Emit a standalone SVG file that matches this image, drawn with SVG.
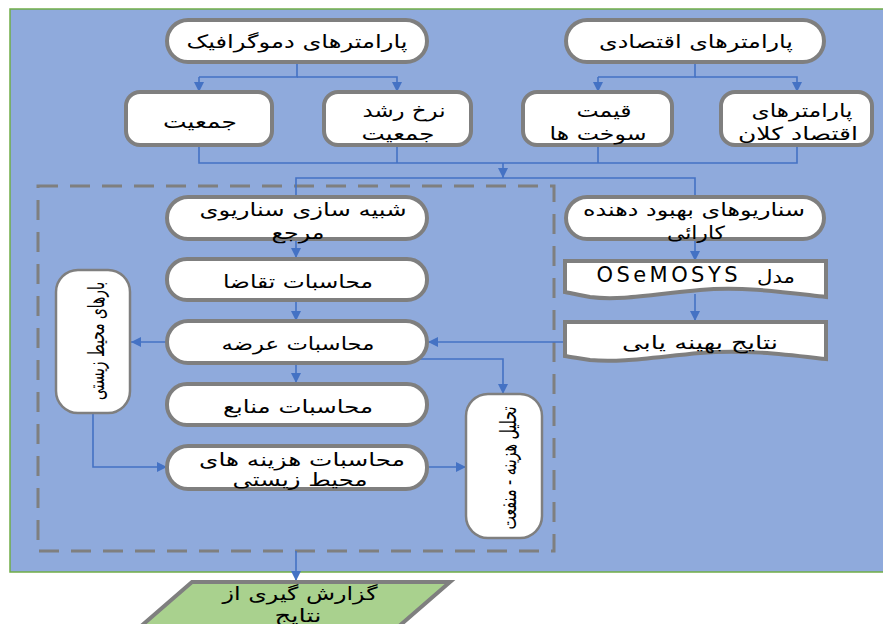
<svg xmlns="http://www.w3.org/2000/svg" width="883" height="624" viewBox="0 0 883 624">
<defs>
<marker id="ah" viewBox="0 0 10 10" refX="10" refY="5" markerWidth="10" markerHeight="10" markerUnits="userSpaceOnUse" orient="auto">
<path d="M0,0 L10,5 L0,10 Z" fill="#4472C4"/>
</marker>
<style>
.bg{fill:#8FAADC;stroke:#70AD47;stroke-width:1.5}
.n{fill:#FFFFFF;stroke:#7F7F7F;stroke-width:4}
.v{fill:#FFFFFF;stroke:#7F7F7F;stroke-width:2.5}
.dash{fill:none;stroke:#7F7F7F;stroke-width:3;stroke-dasharray:20 12}
.c{fill:none;stroke:#4472C4;stroke-width:1.6}
.a{marker-end:url(#ah)}
text{font-family:"DejaVu Sans",sans-serif;font-size:18px;fill:#000;text-anchor:middle;dominant-baseline:central}
.lat{font-size:21px}
.rot{font-size:22px}
</style>
</defs>
<rect class="bg" x="10" y="9" width="880" height="563"/>
<rect class="dash" x="38" y="186" width="516" height="365"/>
<g id="connectors">
<path class="c" d="M297,62 V77 H199"/>
<path class="c a" d="M199,77 V92"/>
<path class="c a" d="M297,77 H397 V92"/>
<path class="c" d="M695,62 V77 H598"/>
<path class="c a" d="M598,77 V92"/>
<path class="c a" d="M695,77 H797 V92"/>
<path class="c" d="M199,145 V163 H797 V145"/>
<path class="c" d="M397,145 V163"/>
<path class="c" d="M598,145 V163"/>
<path class="c a" d="M503,163 V178"/>
<path class="c" d="M296,198 V178 H695 V198"/>
<path class="c a" d="M296,239 V258"/>
<path class="c a" d="M296,300 V321"/>
<path class="c a" d="M167,342 H131"/>
<path class="c a" d="M296,363 V383"/>
<path class="c a" d="M93,413 V467 H167"/>
<path class="c a" d="M415,359 H503 V394"/>
<path class="c a" d="M427,467 H466"/>
<path class="c a" d="M695,239 V261"/>
<path class="c a" d="M695,294 V321"/>
<path class="c a" d="M565,342 H428"/>
<path class="c a" d="M296,551 V581"/>
</g>
<g id="n-demo"><rect class="n" x="167" y="20" width="260" height="42" rx="21"/><text x="297" y="41" textLength="221" lengthAdjust="spacingAndGlyphs">پارامترهای دموگرافیک</text></g>
<g id="n-econ"><rect class="n" x="566" y="20" width="258" height="42" rx="21"/><text x="696" y="41" textLength="194" lengthAdjust="spacingAndGlyphs">پارامترهای اقتصادی</text></g>
<g id="n-pop"><rect class="n" x="126" y="92" width="146" height="53" rx="14"/><text x="200" y="121" textLength="74" lengthAdjust="spacingAndGlyphs">جمعیت</text></g>
<g id="n-growth"><rect class="n" x="324" y="92" width="147" height="53" rx="14"/><text x="404" y="110" textLength="83" lengthAdjust="spacingAndGlyphs">نرخ رشد</text><text x="398" y="133" textLength="73" lengthAdjust="spacingAndGlyphs">جمعیت</text></g>
<g id="n-fuel"><rect class="n" x="523" y="92" width="149" height="53" rx="14"/><text x="604" y="110" textLength="55" lengthAdjust="spacingAndGlyphs">قیمت</text><text x="598" y="133" textLength="97" lengthAdjust="spacingAndGlyphs">سوخت ها</text></g>
<g id="n-macro"><rect class="n" x="721" y="92" width="151" height="53" rx="14"/><text x="802" y="110" textLength="101" lengthAdjust="spacingAndGlyphs">پارامترهای</text><text x="798" y="133" textLength="120" lengthAdjust="spacingAndGlyphs">اقتصاد کلان</text></g>
<g id="n-ref"><rect class="n" x="167" y="197" width="260" height="42" rx="21"/><text x="303" y="209" textLength="207" lengthAdjust="spacingAndGlyphs">شبیه سازی سناریوی</text><text x="298" y="232" textLength="53" lengthAdjust="spacingAndGlyphs">مرجع</text></g>
<g id="n-eff"><rect class="n" x="566" y="197" width="258" height="42" rx="21"/><text x="694" y="209" textLength="222" lengthAdjust="spacingAndGlyphs">سناریوهای بهبود دهنده</text><text x="696" y="232" textLength="58" lengthAdjust="spacingAndGlyphs">کارائی</text></g>
<g id="n-demand"><rect class="n" x="167" y="259" width="260" height="41" rx="20"/><text x="298" y="281" textLength="150" lengthAdjust="spacingAndGlyphs">محاسبات تقاضا</text></g>
<g id="n-supply"><rect class="n" x="167" y="321" width="260" height="42" rx="21"/><text x="298" y="343" textLength="153" lengthAdjust="spacingAndGlyphs">محاسبات عرضه</text></g>
<g id="n-resource"><rect class="n" x="167" y="384" width="260" height="41" rx="20"/><text x="298" y="406" textLength="150" lengthAdjust="spacingAndGlyphs">محاسبات منابع</text></g>
<g id="n-envcost"><rect class="n" x="167" y="446" width="260" height="43" rx="21"/><text x="302" y="459" textLength="206" lengthAdjust="spacingAndGlyphs">محاسبات هزینه های</text><text x="300" y="479" textLength="135" lengthAdjust="spacingAndGlyphs">محیط زیستی</text></g>
<g id="n-osemosys"><path class="n" d="M565,261 H826 V297 C790,293 745,286 700,290 C655,294 620,301 590,297 C578,295 570,293 565,292 Z"/><text x="776" y="276" textLength="38" lengthAdjust="spacingAndGlyphs">مدل</text><text class="lat" x="667" y="275" textLength="141" lengthAdjust="spacing">OSeMOSYS</text></g>
<g id="n-results"><path class="n" d="M565,322 H826 V359 C790,355 745,349 700,353 C655,357 620,363 590,360 C578,358 570,357 565,356 Z"/><text x="700" y="342" textLength="156" lengthAdjust="spacingAndGlyphs">نتایج بهینه یابی</text></g>
<g id="n-envload"><rect class="v" x="56" y="270" width="74" height="143" rx="22"/><text class="rot" transform="translate(96,341) rotate(-90)" textLength="118" lengthAdjust="spacingAndGlyphs">بارهای محیط زیستی</text></g>
<g id="n-cba"><rect class="v" x="466" y="394" width="76" height="144" rx="22"/><text class="rot" transform="translate(508,468) rotate(-90)" textLength="123" lengthAdjust="spacingAndGlyphs">تحلیل هزینه - منفعت</text></g>
<g id="n-report"><path d="M192,582 H450 L390,634 H132 Z" fill="#A9D18E" stroke="#7F7F7F" stroke-width="4"/><text x="300" y="593" textLength="155" lengthAdjust="spacingAndGlyphs">گزارش گیری از</text><text x="298" y="615" textLength="47" lengthAdjust="spacingAndGlyphs">نتایج</text></g>
</svg>
